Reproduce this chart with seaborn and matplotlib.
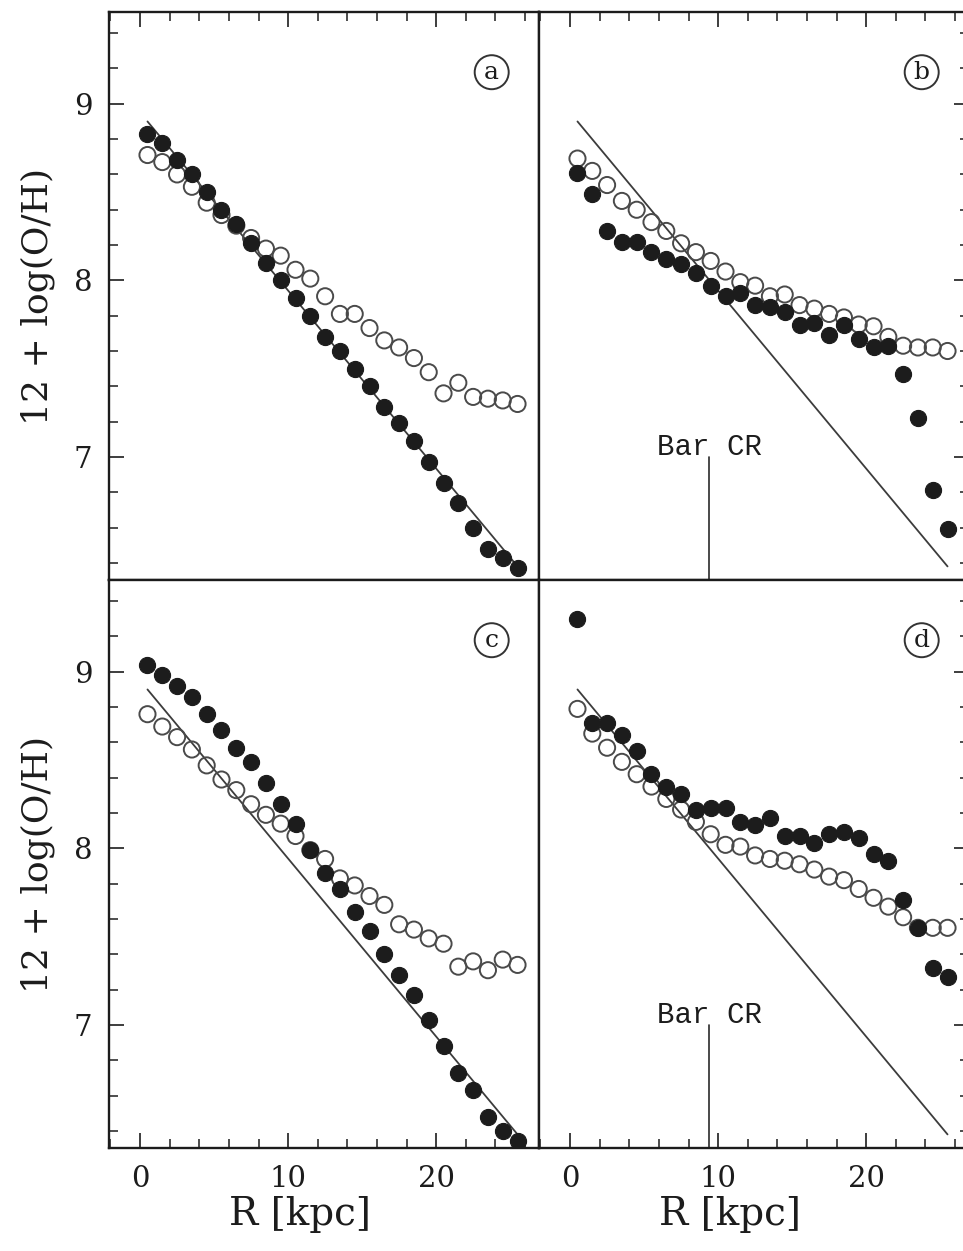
import pandas as pd
import seaborn as sns
import matplotlib.pyplot as plt
from matplotlib.ticker import MultipleLocator

# Galactocentric radius of the model annuli [kpc]
radius = [0.5, 1.5, 2.5, 3.5, 4.5, 5.5, 6.5, 7.5, 8.5, 9.5, 10.5, 11.5, 12.5,
          13.5, 14.5, 15.5, 16.5, 17.5, 18.5, 19.5, 20.5, 21.5, 22.5, 23.5,
          24.5, 25.5]

# 12 + log(O/H), filled = gas, open = stars
a_filled = [8.83, 8.78, 8.68, 8.60, 8.50, 8.40, 8.32, 8.21, 8.10, 8.00, 7.90,
            7.80, 7.68, 7.60, 7.50, 7.40, 7.28, 7.19, 7.09, 6.97, 6.85, 6.74,
            6.60, 6.48, 6.43, 6.37]
a_open = [8.71, 8.67, 8.60, 8.53, 8.44, 8.37, 8.31, 8.24, 8.18, 8.14, 8.06,
          8.01, 7.91, 7.81, 7.81, 7.73, 7.66, 7.62, 7.56, 7.48, 7.36, 7.42,
          7.34, 7.33, 7.32, 7.30]

b_filled = [8.61, 8.49, 8.28, 8.22, 8.22, 8.16, 8.12, 8.09, 8.04, 7.97, 7.91,
            7.93, 7.86, 7.85, 7.82, 7.75, 7.76, 7.69, 7.75, 7.67, 7.62, 7.63,
            7.47, 7.22, 6.81, 6.59]
b_open = [8.69, 8.62, 8.54, 8.45, 8.40, 8.33, 8.28, 8.21, 8.16, 8.11, 8.05,
          7.99, 7.97, 7.91, 7.92, 7.86, 7.84, 7.81, 7.79, 7.75, 7.74, 7.68,
          7.63, 7.62, 7.62, 7.60]

c_filled = [9.04, 8.98, 8.92, 8.86, 8.76, 8.67, 8.57, 8.49, 8.37, 8.25, 8.14,
            7.99, 7.86, 7.77, 7.64, 7.53, 7.40, 7.28, 7.17, 7.03, 6.88, 6.73,
            6.63, 6.48, 6.40, 6.34]
c_open = [8.76, 8.69, 8.63, 8.56, 8.47, 8.39, 8.33, 8.25, 8.19, 8.14, 8.07,
          7.99, 7.94, 7.83, 7.79, 7.73, 7.68, 7.57, 7.54, 7.49, 7.46, 7.33,
          7.36, 7.31, 7.37, 7.34]

d_filled = [9.30, 8.71, 8.71, 8.64, 8.55, 8.42, 8.35, 8.31, 8.22, 8.23, 8.23,
            8.15, 8.13, 8.17, 8.07, 8.07, 8.03, 8.08, 8.09, 8.06, 7.97, 7.93,
            7.71, 7.55, 7.32, 7.27]
d_open = [8.79, 8.65, 8.57, 8.49, 8.42, 8.35, 8.28, 8.22, 8.15, 8.08, 8.02,
          8.01, 7.96, 7.94, 7.93, 7.91, 7.88, 7.84, 7.82, 7.77, 7.72, 7.67,
          7.61, 7.55, 7.55, 7.55]

# initial (reference) gradient drawn as a straight line
grad_r = [0.5, 25.5]
grad_oh = [8.90, 6.38]

# bar corotation radius [kpc]
bar_cr = 9.4
bar_cr_top = 7.0

panel_names = ["a", "b", "c", "d"]
panel_filled = [a_filled, b_filled, c_filled, d_filled]
panel_open = [a_open, b_open, c_open, d_open]
show_bar = [False, True, False, True]

sns.set_theme(style="white")
plt.rcParams["font.family"] = ["DejaVu Serif", "DejaVu Sans"]

fig = plt.figure(figsize=(9.63, 12.51), dpi=100)

W, H = 430 / 963, 568 / 1251
x_left, x_right = 109 / 963, 539 / 963
y_top, y_bot = (1251 - 580) / 1251, (1251 - 1148) / 1251
positions = [(x_left, y_top), (x_right, y_top), (x_left, y_bot), (x_right, y_bot)]

ink = "#1c1c1c"

for i, name in enumerate(panel_names):
    ax = fig.add_axes([positions[i][0], positions[i][1], W, H])
    is_left = i % 2 == 0
    is_top = i < 2

    sns.lineplot(x=grad_r, y=grad_oh, ax=ax, color="#3c3c3c", lw=1.3,
                 legend=False, zorder=1)
    sns.scatterplot(x=radius, y=panel_open[i], ax=ax, marker="o", s=135,
                    facecolor="none", edgecolor="#4a4a4a", linewidth=1.4,
                    legend=False, zorder=2)
    sns.scatterplot(x=radius, y=panel_filled[i], ax=ax, marker="o", s=135,
                    color=ink, edgecolor=ink, linewidth=0.8,
                    legend=False, zorder=3)

    if show_bar[i]:
        ax.plot([bar_cr, bar_cr], [6.0, bar_cr_top], color="#2a2a2a", lw=1.2)
        ax.text(bar_cr, bar_cr_top + 0.01, "Bar CR", ha="center",
                va="baseline", fontsize=21, family="Liberation Mono",
                color=ink)

    ax.text(0.89, 0.894, name, transform=ax.transAxes, ha="center",
            va="center", fontsize=18, color=ink,
            bbox=dict(boxstyle="circle,pad=0.22", fc="none", ec="#333333", lw=1.4))

    ax.set_xlim(-2.1, 26.95)
    ax.set_ylim(6.303, 9.52)
    ax.xaxis.set_major_locator(MultipleLocator(10))
    ax.xaxis.set_minor_locator(MultipleLocator(2))
    ax.yaxis.set_major_locator(MultipleLocator(1))
    ax.yaxis.set_minor_locator(MultipleLocator(0.2))

    ax.tick_params(which="both", direction="in", color=ink,
                   top=is_top, bottom=not is_top,
                   left=is_left, right=not is_left,
                   labeltop=False, labelright=False,
                   labelbottom=not is_top, labelleft=is_left,
                   labelsize=21, labelcolor=ink, pad=12)
    ax.tick_params(which="major", length=11, width=1.2)
    ax.tick_params(which="minor", length=6.5, width=1.1)

    for sp in ax.spines.values():
        sp.set_color(ink)
        sp.set_linewidth(1.7)

    if is_left:
        ax.set_ylabel("12 + log(O/H)", fontsize=26, color=ink)
        ax.yaxis.set_label_coords(-0.125, 0.5)
    else:
        ax.set_ylabel("")
    if not is_top:
        ax.set_xlabel("R [kpc]", fontsize=28, color=ink)
        ax.xaxis.set_label_coords(0.444, -0.085)
    else:
        ax.set_xlabel("")

fig.savefig("out.png", dpi=100, facecolor="white")
